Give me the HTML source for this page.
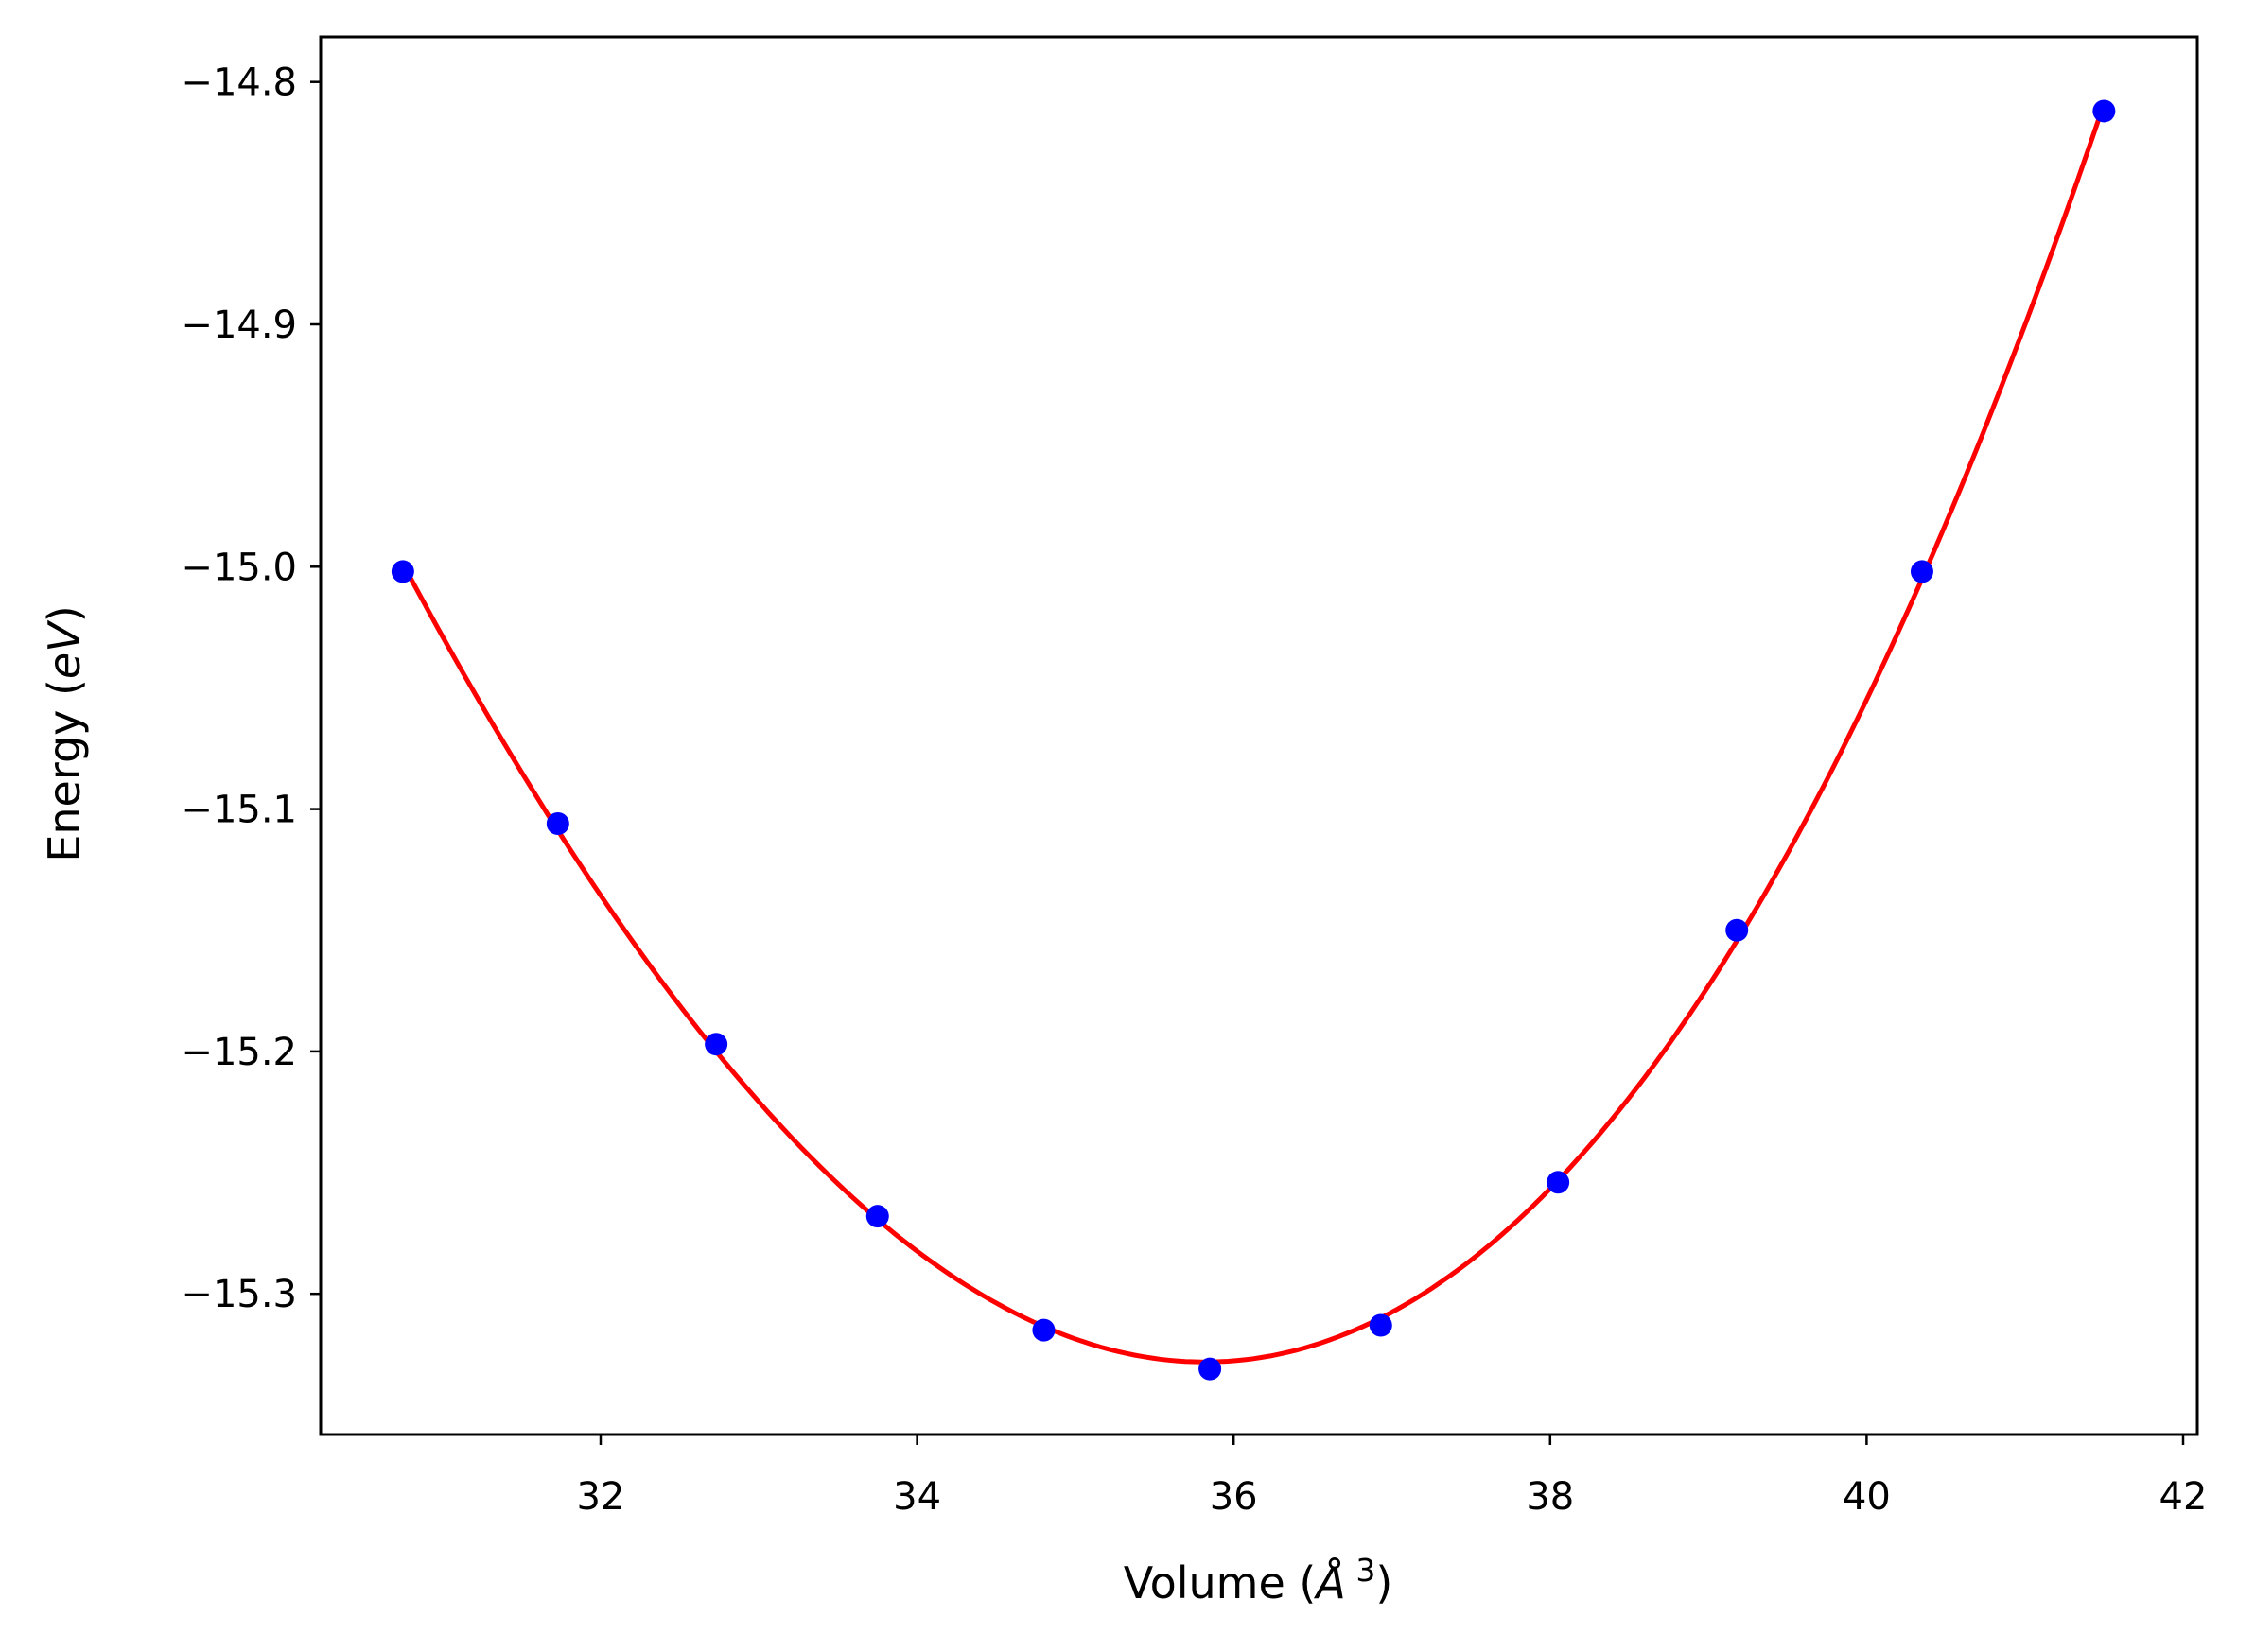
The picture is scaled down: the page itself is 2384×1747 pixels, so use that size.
<!DOCTYPE html>
<html><head><meta charset="utf-8"><style>
html,body{margin:0;padding:0;background:#fff}
svg{display:block;font-family:"DejaVu Sans","Liberation Sans",sans-serif}
</style></head><body>
<svg id="chart" width="2384" height="1747" viewBox="0 0 2384 1747" xmlns="http://www.w3.org/2000/svg">
<rect x="0" y="0" width="2384" height="1747" fill="#fff"/>
<g id="ticks"></g>
<g id="plot"></g>
<rect x="339" y="39" width="1984" height="1478" fill="none" stroke="#000" stroke-width="3"/>
<text x="1330" y="1690" font-size="46" text-anchor="middle">Volume (<tspan font-style="italic">Å</tspan><tspan font-size="33" dy="-18"> 3</tspan><tspan dy="18">)</tspan></text>
<text transform="translate(84,776) rotate(-90)" font-size="46" text-anchor="middle">Energy (<tspan font-style="italic">eV</tspan>)</text>
</svg>
<script>
const volumes = [30.75, 31.73, 32.73, 33.75, 34.80, 35.85, 36.93, 38.05, 39.18, 40.35, 41.50];
const energies = [-15.002, -15.106, -15.197, -15.268, -15.315, -15.331, -15.313, -15.254, -15.150, -15.002, -14.812];
const xTicks = [32, 34, 36, 38, 40, 42];
const yTicks = [-14.8, -14.9, -15.0, -15.1, -15.2, -15.3];

const NS = "http://www.w3.org/2000/svg";
function xs(v){ return 635 + (v - 32) * 167.3; }
function ys(e){ return 86.7 + (-14.8 - e) * 2563; }
function mk(tag, attrs){ const el = document.createElementNS(NS, tag); for (const k in attrs) el.setAttribute(k, attrs[k]); return el; }

const ticks = document.getElementById('ticks');
xTicks.forEach(t => {
  const l = mk('line', {x1: xs(t), x2: xs(t), y1: 1517, y2: 1528, stroke: '#000', 'stroke-width': 2.5});
  
  
  ticks.appendChild(l);
  const tx = mk('text', {x: xs(t), y: 1596, 'font-size': 40, 'text-anchor': 'middle'});
  
  
  tx.textContent = String(t);
  ticks.appendChild(tx);
});
yTicks.forEach(t => {
  const l = mk('line', {x1: 328, x2: 339, y1: ys(t), y2: ys(t), stroke: '#000', 'stroke-width': 2.5});
  
  
  ticks.appendChild(l);
  const tx = mk('text', {x: 314, y: ys(t) + 14, 'font-size': 40, 'text-anchor': 'end'});
  
  
  tx.textContent = '\u2212' + Math.abs(t).toFixed(1);
  ticks.appendChild(tx);
});

function fit(xv, yv, deg){
  const n = deg + 1, A = [], b = [];
  for (let i = 0; i < n; i++){ A.push(new Array(n).fill(0)); b.push(0); }
  const x0 = 36;
  xv.forEach((x, k) => {
    const d = x - x0;
    for (let i = 0; i < n; i++){
      b[i] += yv[k] * Math.pow(d, i);
      for (let j = 0; j < n; j++) A[i][j] += Math.pow(d, i + j);
    }
  });
  for (let i = 0; i < n; i++){
    let p = i;
    for (let r = i + 1; r < n; r++) if (Math.abs(A[r][i]) > Math.abs(A[p][i])) p = r;
    [A[i], A[p]] = [A[p], A[i]]; [b[i], b[p]] = [b[p], b[i]];
    for (let r = 0; r < n; r++) if (r !== i){
      const f = A[r][i] / A[i][i];
      for (let c = i; c < n; c++) A[r][c] -= f * A[i][c];
      b[r] -= f * b[i];
    }
  }
  const c = b.map((v, i) => v / A[i][i]);
  return x => c.reduce((s, ci, i) => s + ci * Math.pow(x - x0, i), 0);
}
const f = fit(volumes, energies, 3);
const plot = document.getElementById('plot');
const vmin = Math.min(...volumes), vmax = Math.max(...volumes);
let d = '';
for (let i = 0; i <= 200; i++){
  const v = vmin + (vmax - vmin) * i / 200;
  d += (i ? 'L' : 'M') + xs(v).toFixed(1) + ',' + ys(f(v)).toFixed(1);
}
const path = mk('path', {d: d, fill: 'none', stroke: '#ff0000', 'stroke-width': 5});


plot.appendChild(path);
volumes.forEach((v, i) => {
  const c = mk('circle', {cx: xs(v), cy: ys(energies[i]), r: 12, fill: '#0000ff'});
  
  
  plot.appendChild(c);
});
</script>
</body></html>
